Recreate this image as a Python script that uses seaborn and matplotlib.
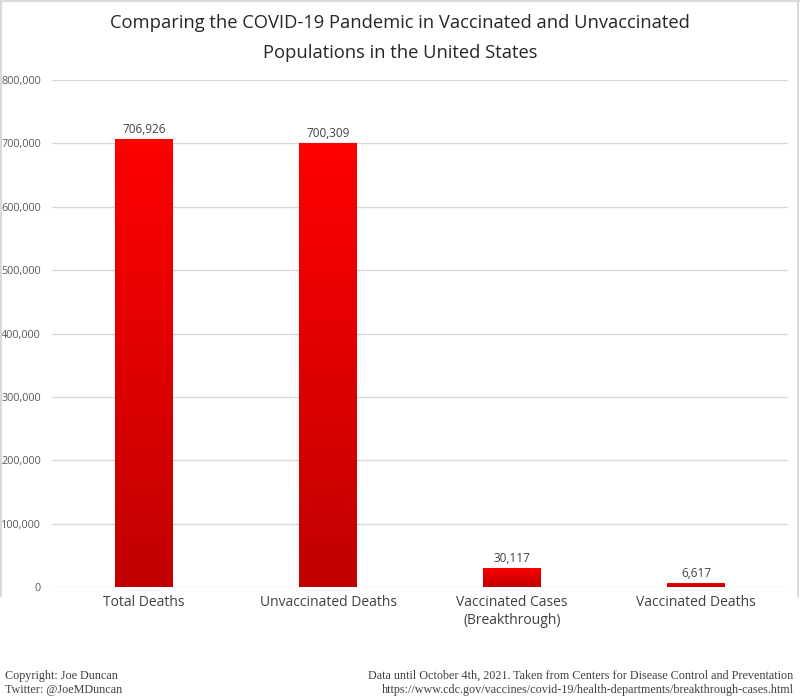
import numpy as np
import matplotlib
matplotlib.use("Agg")
import matplotlib.pyplot as plt
import seaborn as sns
from matplotlib.colors import LinearSegmentedColormap
from matplotlib.lines import Line2D

# data
categories = ["Total Deaths", "Unvaccinated Deaths", "Vaccinated Cases\n(Breakthrough)", "Vaccinated Deaths"]
counts = [706926, 700309, 30117, 6617]
value_labels = ["706,926", "700,309", "30,117", "6,617"]
y_ticks = [0, 100000, 200000, 300000, 400000, 500000, 600000, 700000, 800000]

sns.set_style("white")
plt.rcParams["font.family"] = ["Open Sans", "DejaVu Sans"]

fig = plt.figure(figsize=(8, 7), dpi=100)
ax = fig.add_axes([0.065, 0.1614, 0.92, 0.7243])

sns.barplot(x=categories, y=counts, color="#FF0000", width=0.315, ax=ax)

ax.set_ylim(0, 800000)
ax.set_xlim(-0.5, 3.5)
ax.set_yticks(y_ticks)
ax.set_yticklabels([f"{v:,}" for v in y_ticks], fontsize=7.8, color="#595959")
ax.tick_params(axis="x", labelsize=10, labelcolor="#404040", length=0, pad=6)
ax.tick_params(axis="y", length=0, pad=8)
ax.yaxis.grid(True, color="#D9D9D9", linewidth=1)
ax.set_axisbelow(True)
sns.despine(ax=ax, left=True, bottom=True)

# vertical gradient per bar: bright red at top, dark red at bottom
cmap = LinearSegmentedColormap.from_list("redgrad", ["#C00000", "#FF0000"])
grad = np.linspace(0, 1, 256).reshape(-1, 1)
for patch in ax.patches:
    x0, y0 = patch.get_x(), patch.get_y()
    w, h = patch.get_width(), patch.get_height()
    patch.set_facecolor("none")
    patch.set_edgecolor("none")
    im = ax.imshow(grad, cmap=cmap, origin="lower", aspect="auto",
                   extent=[x0, x0 + w, y0, y0 + h], zorder=2)
    im.set_clip_path(patch)

for i, (v, lab) in enumerate(zip(counts, value_labels)):
    ax.text(i, v + 5000, lab, ha="center", va="bottom", fontsize=8.5, color="#404040")

ax.set_ylim(0, 800000)
ax.set_xlim(-0.5, 3.5)

fig.text(0.5, 0.967, "Comparing the COVID-19 Pandemic in Vaccinated and Unvaccinated",
         ha="center", va="center", fontsize=13.2, color="#262626")
fig.text(0.5, 0.925, "Populations in the United States",
         ha="center", va="center", fontsize=13.2, color="#262626")

# footer notes
serif = ["Liberation Serif", "DejaVu Serif"]
fig.text(0.006, 0.034, "Copyright: Joe Duncan", ha="left", va="center",
         fontsize=8.7, color="#404040", family=serif)
fig.text(0.006, 0.015, "Twitter: @JoeMDuncan", ha="left", va="center",
         fontsize=8.7, color="#404040", family=serif)
fig.text(0.992, 0.034, "Data until October 4th, 2021. Taken from Centers for Disease Control and Preventation",
         ha="right", va="center", fontsize=8.7, color="#404040", family=serif)
fig.text(0.992, 0.015, "https://www.cdc.gov/vaccines/covid-19/health-departments/breakthrough-cases.html",
         ha="right", va="center", fontsize=8.7, color="#404040", family=serif)

# light chart border (top and sides)
border = dict(color="#D9D9D9", linewidth=1.5, transform=fig.transFigure)
fig.add_artist(Line2D([0, 1], [0.999, 0.999], **border))
fig.add_artist(Line2D([0.001, 0.001], [0.148, 1], **border))
fig.add_artist(Line2D([0.997, 0.997], [0.148, 1], **border))

fig.savefig("out.png", dpi=100)
